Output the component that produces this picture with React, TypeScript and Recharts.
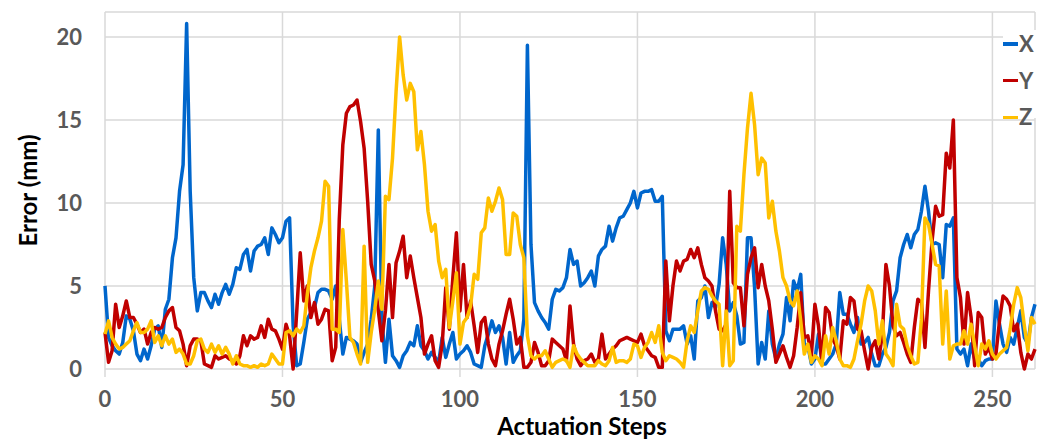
import { LineChart, Line, XAxis, YAxis, CartesianGrid, Legend } from "recharts";

// error per actuation step, in mm
const errX = [
  5.0, 1.9, 1.4, 1.1, 0.9, 1.6, 3.2, 3.0, 2.3, 0.9,
  0.5, 1.2, 0.6, 1.4, 2.4, 2.6, 1.3, 3.6, 4.2, 6.7,
  7.9, 10.7, 12.3, 20.8, 10.7, 5.5, 3.5, 4.6, 4.6, 4.1,
  3.7, 4.5, 3.9, 4.6, 5.1, 4.5, 5.1, 6.1, 6.0, 6.9,
  7.2, 5.9, 7.1, 7.4, 7.5, 7.9, 6.9, 8.5, 8.1, 7.6,
  7.9, 8.9, 9.1, 2.6, 0.2, 0.3, 1.6, 3.0, 3.4, 3.7,
  4.6, 4.8, 4.8, 4.7, 4.2, 5.0, 3.0, 0.9, 1.9, 1.8,
  1.7, 1.5, 0.4, 1.0, 1.5, 3.0, 5.0, 14.4, 3.0, 0.4,
  3.0, 0.8, 0.5, 0.1, 0.8, 1.1, 1.6, 1.4, 2.6, 1.4,
  1.1, 0.6, 1.0, 0.7, 0.4, 1.9, 0.7, 1.5, 2.2, 0.6,
  0.9, 1.1, 1.4, 1.0, 0.3, 0.2, 0.1, 1.4, 2.1, 2.9,
  2.2, 2.6, 1.9, 0.3, 2.2, 0.4, 0.8, 1.1, 3.0, 19.5,
  7.5, 4.0, 3.5, 3.1, 2.8, 2.4, 4.2, 4.8, 4.7, 4.9,
  5.5, 7.2, 6.3, 6.5, 5.0, 5.2, 5.5, 5.9, 5.0, 6.8,
  7.2, 7.4, 8.6, 7.7, 8.5, 9.1, 9.2, 9.6, 10.0, 10.7,
  9.7, 10.6, 10.7, 10.7, 10.8, 10.1, 10.1, 10.4, 2.3, 1.7,
  2.4, 2.4, 2.4, 2.6, 1.5, 2.0, 0.6, 4.1, 4.3, 5.0,
  3.1, 4.0, 3.7, 5.1, 7.9, 6.3, 3.5, 4.0, 3.2, 1.5,
  1.6, 7.9, 7.9, 4.9, 0.3, 1.6, 0.6, 3.5, 1.5, 0.6,
  1.5, 2.1, 4.3, 2.9, 5.3, 4.7, 5.7, 1.5, 1.4, 0.3,
  0.6, 2.1, 0.3, 0.3, 0.6, 0.9, 1.5, 4.6, 3.3, 3.3,
  2.7, 2.2, 3.1, 1.5, 1.6, 1.9, 0.9, 0.2, 0.2, 0.9,
  1.3, 2.2, 4.1, 4.7, 6.7, 7.5, 8.1, 7.3, 8.1, 8.4,
  9.5, 11.0, 9.5, 7.5, 7.6, 7.5, 5.5, 8.7, 8.6, 9.1,
  1.2, 0.9, 1.2, 0.2, 1.5, 0.6, 0.6, 0.2, 0.5, 0.6,
  0.6, 4.1, 2.7, 1.5, 1.0, 1.9, 1.5, 2.5, 3.5, 1.9,
  1.5, 3.1, 3.9,
];

const errY = [
  2.2, 0.4, 1.1, 3.9, 2.5, 3.2, 4.1, 3.1, 3.1, 2.7,
  2.2, 2.4, 1.5, 2.2, 2.5, 2.4, 2.5, 3.1, 3.5, 3.7,
  2.5, 2.3, 1.5, 0.2, 1.4, 1.8, 1.8, 1.7, 0.3, 0.2,
  0.1, 0.8, 0.6, 0.7, 0.8, 0.6, 0.5, 0.3, 0.8, 2.0,
  1.4, 2.0, 1.8, 1.9, 2.6, 1.9, 3.0, 2.4, 2.3, 1.8,
  1.2, 2.7, 2.0, 0.0, 3.4, 7.0, 4.1, 5.0, 3.1, 4.0,
  2.7, 3.0, 3.6, 3.5, 0.5, 1.3, 9.0, 13.5, 15.4, 15.8,
  15.9, 16.2, 14.9, 13.3, 10.1, 6.3, 5.3, 3.5, 1.7, 3.5,
  6.3, 3.1, 6.4, 7.1, 8.0, 5.5, 6.8, 5.5, 4.3, 3.1,
  0.9, 1.5, 2.0, 0.5, 0.1, 1.5, 4.9, 2.4, 5.5, 8.2,
  3.5, 6.3, 3.1, 4.1, 2.6, 1.0, 2.8, 3.1, 1.5, 0.6,
  0.2, 1.5, 2.3, 3.3, 4.2, 3.0, 1.5, 1.9, 0.1, 0.1,
  0.4, 1.6, 1.0, 0.2, 0.2, 0.5, 1.8, 1.6, 1.4, 1.2,
  0.5, 3.8, 1.5, 0.6, 0.2, 0.5, 0.6, 0.9, 0.4, 0.6,
  2.1, 0.6, 0.9, 1.2, 1.4, 1.7, 1.8, 1.9, 1.8, 1.7,
  1.6, 2.1, 1.4, 1.1, 0.8, 0.7, 0.1, 0.1, 6.5, 2.9,
  5.0, 6.5, 5.9, 6.5, 6.6, 7.2, 6.7, 7.3, 6.3, 5.5,
  5.3, 5.0, 3.5, 2.4, 2.3, 2.7, 10.7, 5.2, 4.9, 4.9,
  2.6, 5.7, 6.7, 7.3, 4.9, 6.3, 5.0, 4.1, 2.4, 0.4,
  0.9, 1.4, 0.7, 0.1, 0.8, 2.5, 4.6, 1.9, 2.0, 0.8,
  3.9, 2.6, 0.4, 3.7, 3.4, 1.8, 1.4, 0.6, 2.9, 2.7,
  4.3, 4.1, 2.4, 2.3, 1.1, 0.0, 1.3, 1.7, 0.6, 2.1,
  6.3, 5.0, 2.6, 2.0, 2.2, 1.6, 0.9, 0.4, 2.5, 4.2,
  4.0, 1.3, 4.7, 7.7, 9.8, 9.2, 9.3, 13.0, 12.1, 15.0,
  5.5, 4.3, 1.5, 4.6, 3.1, 0.2, 3.4, 3.1, 0.9, 1.3,
  0.6, 0.9, 2.9, 4.4, 4.2, 3.8, 2.3, 2.7, 1.0, 0.0,
  0.9, 0.6, 1.2,
];

const errZ = [
  2.1, 2.9, 1.9, 1.5, 1.2, 1.3, 1.5, 1.7, 2.3, 2.8,
  2.2, 2.2, 2.4, 2.9, 1.6, 2.0, 1.4, 2.0, 1.5, 1.8,
  1.0, 1.2, 0.9, 0.3, 0.3, 0.8, 1.7, 1.8, 1.2, 1.0,
  1.5, 1.0, 1.4, 0.9, 1.3, 0.9, 0.3, 0.8, 0.3, 0.2,
  0.2, 0.1, 0.2, 0.1, 0.3, 0.2, 0.3, 0.9, 0.6, 0.3,
  0.3, 2.2, 2.3, 2.0, 2.4, 2.2, 2.6, 4.5, 6.1, 7.1,
  7.9, 8.9, 11.3, 11.0, 2.4, 2.4, 2.2, 8.4, 5.3, 1.9,
  1.6, 0.9, 0.3, 7.4, 0.4, 2.2, 3.6, 5.3, 3.6, 10.4,
  10.2, 12.7, 16.7, 20.0, 17.7, 16.2, 17.2, 16.7, 13.2, 14.3,
  12.3, 9.5, 8.3, 8.7, 6.5, 5.5, 6.0, 2.5, 4.1, 5.8,
  1.5, 2.8, 3.1, 3.8, 5.7, 5.4, 8.2, 8.5, 10.3, 9.5,
  10.1, 10.9, 10.2, 6.9, 6.9, 9.4, 9.2, 7.5, 6.7, 2.0,
  0.8, 0.6, 0.8, 0.8, 1.1, 0.6, 0.1, 0.4, 0.5, 0.6,
  0.5, 0.1, 1.4, 0.9, 0.6, 0.4, 0.2, 0.2, 0.2, 0.5,
  0.3, 0.2, 0.5, 1.3, 0.4, 0.5, 0.5, 0.4, 0.6, 1.5,
  1.4, 0.7, 1.3, 1.6, 2.2, 1.6, 2.6, 1.0, 0.5, 0.8,
  0.7, 0.6, 0.4, 0.1, 1.7, 2.6, 2.2, 3.5, 4.7, 4.9,
  4.8, 4.4, 4.1, 3.9, 0.2, 3.5, 0.2, 0.5, 8.6, 8.3,
  11.7, 14.5, 16.6, 14.7, 11.7, 12.7, 12.4, 9.1, 10.1, 8.3,
  7.1, 5.5, 5.0, 4.1, 3.8, 4.7, 2.9, 0.9, 1.5, 0.4,
  0.8, 0.6, 0.2, 2.0, 0.9, 2.5, 1.7, 0.6, 0.2, 0.2,
  0.1, 0.6, 1.7, 2.7, 4.1, 5.0, 4.7, 3.5, 1.5, 2.9,
  0.9, 0.6, 0.2, 3.9, 2.6, 2.4, 1.4, 0.8, 0.3, 0.4,
  3.0, 9.1, 8.7, 7.5, 6.3, 6.2, 1.5, 4.7, 0.6, 1.4,
  1.5, 1.5, 2.3, 1.5, 2.7, 1.4, 0.2, 1.5, 1.2, 1.7,
  0.9, 0.6, 0.9, 1.1, 1.3, 2.4, 3.9, 4.9, 4.3, 2.6,
  1.1, 3.1, 2.7,
];

const stepTicks = [0, 50, 100, 150, 200, 250];
const errorTicks = [0, 5, 10, 15, 20];

const series = [
  { key: "x", name: "X", color: "#0066CC" },
  { key: "y", name: "Y", color: "#C00000" },
  { key: "z", name: "Z", color: "#FFC000" },
];

const data = errX.map((v, i) => ({ step: i, x: v, y: errY[i], z: errZ[i] }));

const FONT = "Lato, 'Open Sans', sans-serif";

function LegendBox() {
  return (
    <div style={{ position: "relative", width: 52, height: 88, background: "#fff" }}>
      {series.map((s, i) => (
        <div
          key={s.key}
          style={{
            position: "absolute",
            left: 0,
            top: 2 + i * 36.7,
            height: 24,
            display: "flex",
            alignItems: "center",
          }}
        >
          <div style={{ width: 15, height: 3.5, background: s.color }} />
          <span
            style={{
              fontFamily: FONT,
              fontWeight: 700,
              fontSize: 22,
              lineHeight: "24px",
              color: "#595959",
              marginLeft: 1,
            }}
          >
            {s.name}
          </span>
        </div>
      ))}
    </div>
  );
}

export default function App() {
  return (
    <div style={{ position: "absolute", left: 0, top: 0, width: 1059, height: 439, background: "#fff" }}>
      <LineChart
        width={1059}
        height={439}
        data={data}
        margin={{ top: 12, right: 24, left: 0, bottom: 0 }}
      >
        <CartesianGrid stroke="#d9d9d9" strokeWidth={1.5} />
        <XAxis
          type="number"
          dataKey="step"
          domain={[0, 262]}
          ticks={stepTicks}
          height={70}
          axisLine={false}
          tickLine={{ stroke: "#d9d9d9", strokeWidth: 1.5 }}
          tickSize={8}
          tickMargin={14}
          tick={{ fill: "#595959", fontSize: 22, fontWeight: 700, fontFamily: FONT }}
          label={{
            value: "Actuation Steps",
            position: "insideBottom",
            offset: 4,
            dx: 12,
            style: { fill: "#000", fontSize: 24, fontWeight: 700, fontFamily: FONT },
          }}
        />
        <YAxis
          domain={[0, 21.5]}
          ticks={errorTicks}
          width={105}
          axisLine={false}
          tickLine={false}
          tickSize={0}
          tickMargin={23}
          tick={{ fill: "#595959", fontSize: 22, fontWeight: 700, fontFamily: FONT }}
          label={{
            value: "Error (mm)",
            angle: -90,
            position: "insideLeft",
            offset: 28,
            style: { textAnchor: "middle", fill: "#000", fontSize: 24, fontWeight: 700, fontFamily: FONT },
          }}
        />
        {/* centred/middle so no room is reserved for it; wrapperStyle pins it over the top-right corner */}
        <Legend
          layout="horizontal"
          verticalAlign="middle"
          align="center"
          wrapperStyle={{ left: 1003, top: 30, width: 52, height: 88 }}
          content={() => <LegendBox />}
        />
        {series.map((s) => (
          <Line
            key={s.key}
            type="linear"
            dataKey={s.key}
            name={s.name}
            stroke={s.color}
            strokeWidth={3.5}
            strokeLinejoin="round"
            dot={false}
            activeDot={false}
            isAnimationActive={false}
          />
        ))}
      </LineChart>
    </div>
  );
}
